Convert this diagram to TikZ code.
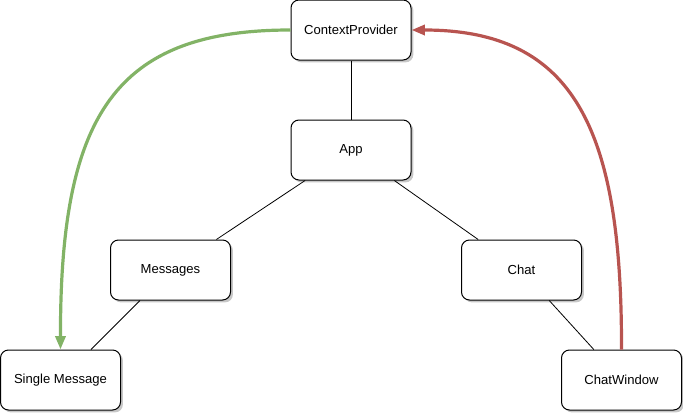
\documentclass[tikz,border=0pt]{standalone}
\usepackage{fontspec}
\setmainfont{Liberation Sans}
\usepackage{xcolor}
\usetikzlibrary{arrows.meta, shadows, positioning}

\definecolor{provgreen}{HTML}{82B366}
\definecolor{consred}{HTML}{B85450}

\tikzset{
    comp/.style={draw=black, line width=0.75pt, fill=white, rounded corners=6pt,
        minimum width=90pt, minimum height=45pt, inner sep=0pt, font=\fontsize{9.8}{11}\selectfont,
        drop shadow={shadow xshift=1.8pt, shadow yshift=-1.8pt, fill=black, opacity=0.22}},
    tree/.style={draw=black, line width=0.6pt},
    flow/.style={line width=2.4pt, -{Triangle[length=10pt, width=7.5pt]}}
}

\begin{document}
\begin{tikzpicture}[x=0.75pt, y=-0.75pt]

    % khung hình
    \useasboundingbox (0,0) rectangle (683,414);

    % =================================================================
    % CÁC THÀNH PHẦN
    % =================================================================
    \node[comp] (ctx) at (351,30) {ContextProvider};
    \node[comp] (app) at (351,150) {App};
    \node[comp] (msgs) at (170.5,270) {Messages};
    \node[comp] (chat) at (521.5,270) {Chat};
    \node[comp] (single) at (60.5,380) {Single Message};
    \node[comp] (win) at (621.5,380) {ChatWindow};

    % =================================================================
    % CÂY THÀNH PHẦN
    % =================================================================
    \begin{scope}[on background layer/.try]
        \draw[tree] (ctx) -- (app);
        \draw[tree] (app) -- (msgs);
        \draw[tree] (app) -- (chat);
        \draw[tree] (msgs) -- (single);
        \draw[tree] (chat) -- (win);
    \end{scope}

    % =================================================================
    % LUỒNG CONTEXT
    % =================================================================
    % cung cấp dữ liệu (xanh)
    \draw[flow, provgreen] (ctx.west) .. controls (115,30) and (60,115) .. (single.north);

    % cập nhật dữ liệu (đỏ)
    \draw[flow, consred] (win.north) .. controls (622,130) and (575,30) .. (ctx.east);

\end{tikzpicture}
\end{document}
